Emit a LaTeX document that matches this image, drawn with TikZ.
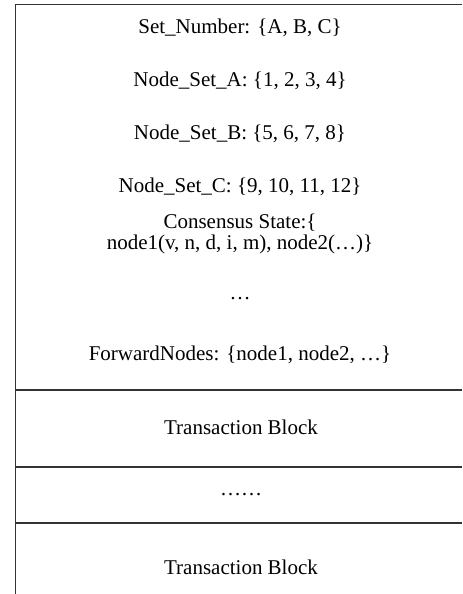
\documentclass[tikz,border=0pt]{standalone}
\usepackage{fontspec}
\setmainfont{Liberation Serif}
\begin{document}
\begin{tikzpicture}[x=0.5pt,y=-0.5pt,font=\fontsize{10.5}{11.5}\selectfont]
    \useasboundingbox (0,0) rectangle (462,594);
    \tikzset{rule/.style={draw=black!80,line width=0.8pt}}
    \coordinate (c1) at (15.5,594);
    \coordinate (c2) at (15.5,4.5);
    \coordinate (c3) at (462,4.5);
    \coordinate (r1) at (15.5,390);
    \coordinate (r2) at (15.5,467);
    \coordinate (r3) at (15.5,523);
    \coordinate (e1) at (462,390);
    \coordinate (e2) at (462,467);
    \coordinate (e3) at (462,523);
    \node (v1) at (240,28) {Set\_Number: \{A, B, C\}};
    \node (v2) at (240,80.5) {Node\_Set\_A: \{1, 2, 3, 4\}};
    \node (v3) at (240,133.5) {Node\_Set\_B: \{5, 6, 7, 8\}};
    \node (v4) at (240,187) {Node\_Set\_C: \{9, 10, 11, 12\}};
    \node[align=center,font=\fontsize{10.5}{10.5}\selectfont] (v5) at (240,234) {Consensus State:\{\\node1(v, n, d, i, m), node2(…)\}};
    \node (v6) at (240,299) {…};
    \node (v7) at (240,355) {ForwardNodes: \{node1, node2, …\}};
    \node (v8) at (241,427) {Transaction Block};
    \node (v9) at (241,495) {……};
    \node (v10) at (241,567) {Transaction Block};
    \draw[rule]  (c1) -- (c2) -- (c3);
    \draw[rule]  (r1) -- (e1);
    \draw[rule]  (r2) -- (e2);
    \draw[rule]  (r3) -- (e3);
    \end{tikzpicture}
\end{document}
